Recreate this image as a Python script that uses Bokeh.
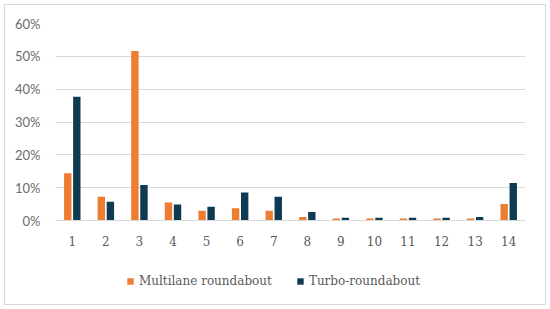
from bokeh.plotting import figure
from bokeh.models import ColumnDataSource, FactorRange, NumeralTickFormatter, FixedTicker, Legend, LegendItem
from bokeh.layouts import column
from bokeh.transform import dodge
from bokeh.embed import file_html
from bokeh.resources import INLINE

categories = [str(i) for i in range(1, 15)]
multilane = [0.144, 0.072, 0.516, 0.055, 0.030, 0.037, 0.030, 0.011, 0.006, 0.006, 0.006, 0.006, 0.006, 0.050]
turbo = [0.377, 0.057, 0.108, 0.049, 0.042, 0.085, 0.072, 0.026, 0.008, 0.008, 0.008, 0.008, 0.011, 0.114]
y_ticks = [0, 0.1, 0.2, 0.3, 0.4, 0.5, 0.6]
series_names = ["Multilane roundabout", "Turbo-roundabout"]
series_colors = ["#ED7D31", "#0E3A52"]

src = ColumnDataSource(dict(cat=categories, m=multilane, t=turbo))

p = figure(width=540, height=254, x_range=FactorRange(factors=categories), y_range=(0, 0.6),
           output_backend="svg", toolbar_location=None,
           min_border_left=50, min_border_right=20, min_border_top=18, min_border_bottom=39)
p.outline_line_color = None
p.background_fill_color = "white"
p.border_fill_color = "white"

p.vbar(x=dodge('cat', -0.135, range=p.x_range), top='m', width=0.22, source=src,
       fill_color=series_colors[0], line_color=None)
p.vbar(x=dodge('cat', 0.135, range=p.x_range), top='t', width=0.22, source=src,
       fill_color=series_colors[1], line_color=None)

p.xgrid.grid_line_color = None
p.ygrid.grid_line_color = "#D9D9D9"
p.ygrid.grid_line_width = 1

p.yaxis.ticker = FixedTicker(ticks=y_ticks)
p.yaxis.formatter = NumeralTickFormatter(format="0%")
p.yaxis.axis_line_color = None
p.yaxis.major_tick_line_color = None
p.yaxis.minor_tick_line_color = None
p.yaxis.major_label_standoff = 9
p.yaxis.major_label_text_font = "Lato"
p.yaxis.major_label_text_font_size = "13px"
p.yaxis.major_label_text_color = "#6B6B6B"

p.xaxis.axis_line_color = "#D9D9D9"
p.xaxis.major_tick_line_color = None
p.xaxis.minor_tick_line_color = None
p.xaxis.major_label_standoff = 9
p.xaxis.major_label_text_font = "DejaVu Serif"
p.xaxis.major_label_text_font_size = "12px"
p.xaxis.major_label_text_color = "#595959"

# legend strip below the chart
lg = figure(width=540, height=45, x_range=(0, 1), y_range=(0, 1),
            x_axis_location=None, y_axis_location=None,
            output_backend="svg", toolbar_location=None,
            min_border_left=0, min_border_right=0, min_border_top=0, min_border_bottom=0)
lg.grid.grid_line_color = None
lg.outline_line_color = None
lg.border_fill_color = "white"
d1 = lg.vbar(x=[-5], top=[-5], bottom=[-6], width=0.1, fill_color=series_colors[0], line_color=None)
d2 = lg.vbar(x=[-5], top=[-5], bottom=[-6], width=0.1, fill_color=series_colors[1], line_color=None)

legend = Legend(items=[LegendItem(label=series_names[0], renderers=[d1]),
                       LegendItem(label=series_names[1], renderers=[d2])],
                orientation="horizontal", location=(71, 16),
                label_text_font="DejaVu Serif", label_text_font_size="12px",
                label_text_color="#595959", glyph_width=8, glyph_height=8,
                label_standoff=5, spacing=24, border_line_color=None,
                background_fill_alpha=0, margin=0, padding=0)
lg.add_layout(legend, "center")

layout = column(p, lg, spacing=0,
                styles={"border": "1px solid #D9D9D9", "margin": "4px 4px 4px 4px"})
open("out.html", "w").write(file_html(layout, INLINE))
